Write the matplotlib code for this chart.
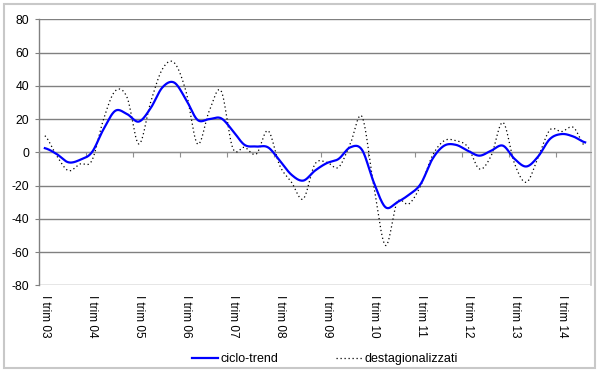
import numpy as np
import matplotlib
matplotlib.use('Agg')
import matplotlib.pyplot as plt
import matplotlib.transforms as mtransforms
from matplotlib.patches import Rectangle

plt.rcParams['font.family'] = ['Liberation Sans', 'DejaVu Sans']
plt.rcParams['axes.unicode_minus'] = False

years = ['03', '04', '05', '06', '07', '08', '09', '10', '11', '12', '13', '14']
tick_labels = ['I trim ' + y for y in years]

ciclo_trend = [2.5, -1, -6, -4.5, 0, 14, 25, 23, 18.5, 26.5, 39, 42,
               32, 19.5, 20, 20.5, 13, 4.5, 3.5, 3, -5, -13.5, -17, -11,
               -6.5, -4, 3, 1.5, -18, -33, -30, -25.5, -19, -4, 4, 4.5,
               1, -2, 1, 4, -4, -8.5, -2.5, 8, 11, 9.5, 6]
destagionalizzati = [10, -2, -11, -7, -5, 20, 37, 33, 5, 30, 50, 54,
                     37, 5, 25, 37, 2.5, 3, -1, 13, -8, -18, -28, -7,
                     -6, -9, 5, 21.5, -20, -56, -30, -31, -20, -2, 7, 7,
                     3.4, -10, -2, 18, -7, -18, -3, 13.5, 12.5, 15, 3.5]
series_names = ['ciclo-trend', 'destagionalizzati']


def smooth(y, n=24):
    """Catmull-Rom interpolation through the data points (Excel-like smoothed line)."""
    y = np.asarray(y, float)
    x = np.arange(len(y), dtype=float)
    p = np.concatenate([[y[0]], y, [y[-1]]])
    xs, ys = [], []
    t = np.linspace(0, 1, n, endpoint=False)
    for i in range(len(y) - 1):
        p0, p1, p2, p3 = p[i], p[i + 1], p[i + 2], p[i + 3]
        yy = 0.5 * ((2 * p1) + (-p0 + p2) * t + (2 * p0 - 5 * p1 + 4 * p2 - p3) * t ** 2
                    + (-p0 + 3 * p1 - 3 * p2 + p3) * t ** 3)
        xs.append(x[i] + t)
        ys.append(yy)
    xs.append([x[-1]])
    ys.append([y[-1]])
    return np.concatenate(xs), np.concatenate(ys)


fig = plt.figure(figsize=(6.0, 3.72), dpi=100)
ax = fig.add_axes([0.065, 0.233, 0.92, 0.715])

xc, yc = smooth(ciclo_trend)
xd, yd = smooth(destagionalizzati)
h1, = ax.plot(xc, yc, color='#0000FF', lw=1.6, label=series_names[0], zorder=4)
h2, = ax.plot(xd, yd, color='black', lw=0.9, linestyle=(0, (1, 2.2)), label=series_names[1], zorder=3)

n = len(ciclo_trend)
ax.set_xlim(-0.5, n - 0.5)
ax.set_ylim(-80, 80)
ax.set_yticks(np.arange(-80, 81, 20))
ax.yaxis.grid(True, color='#808080', lw=1.0)
ax.set_axisbelow(True)

# category axis crossing at zero with tick marks between year groups
ax.spines['bottom'].set_position(('data', 0))
ax.spines['bottom'].set_color('#909090')
ax.spines['bottom'].set_linewidth(0.8)
ax.spines['top'].set_visible(False)
ax.spines['right'].set_color('#c8c8c8')
ax.spines['right'].set_linewidth(1.2)
ax.spines['left'].set_color('#808080')
ax.spines['left'].set_linewidth(1.0)
ax.set_xticks(np.arange(-0.5, n, 4))
ax.set_xticklabels([])
ax.tick_params(axis='x', direction='out', length=3.5, color='#909090', width=0.8)
ax.tick_params(axis='y', direction='out', length=3, color='#808080', labelsize=8.7, pad=4)

trans = mtransforms.blended_transform_factory(ax.transData, ax.transAxes)
for i, lab in enumerate(tick_labels):
    ax.text(4 * i, -0.035, lab, transform=trans, rotation=-90, ha='center', va='top',
            fontsize=8.5)

fig.legend(handles=[h1, h2], loc='center', bbox_to_anchor=(0.542, 0.035), ncol=2,
           frameon=False, fontsize=9, handlelength=2.1, handletextpad=0.2,
           columnspacing=4.6, borderpad=0.0)

fig.patches.append(Rectangle((0.006, 0.011), 0.986, 0.978, transform=fig.transFigure,
                             fill=False, edgecolor='#c8c8c8', lw=1.5))

fig.savefig('out.png', dpi=100)
